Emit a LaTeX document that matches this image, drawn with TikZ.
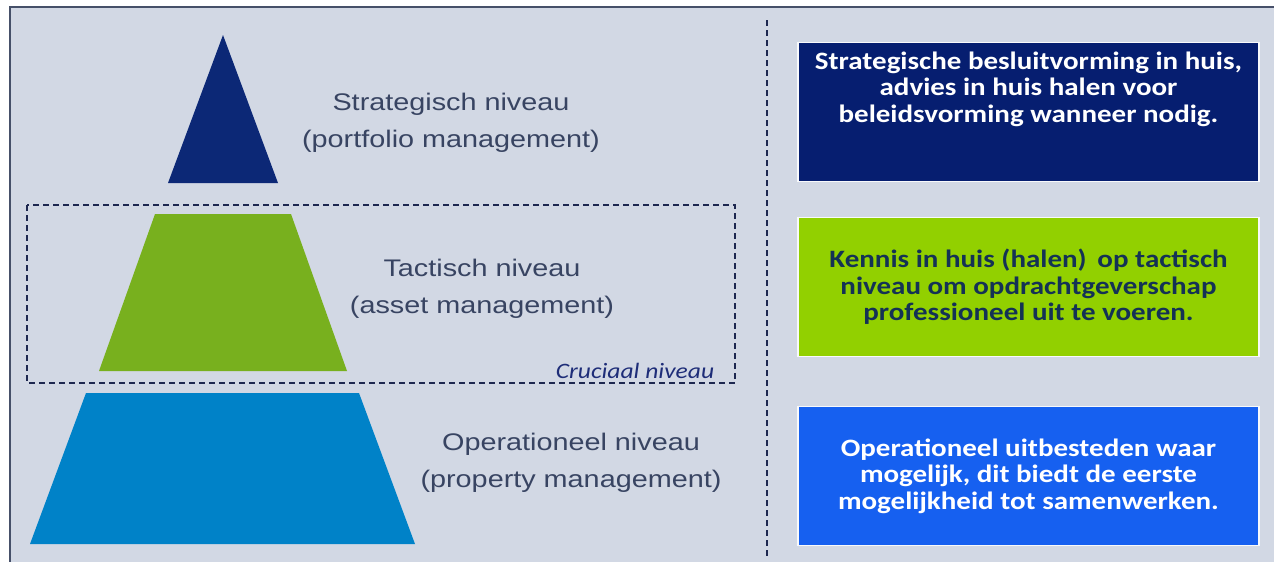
\documentclass[tikz,border=0pt]{standalone}
\usepackage{fontspec}
\setmainfont{Liberation Sans}
\newfontfamily\levelfont[FakeStretch=1.2]{Liberation Sans}
\newfontfamily\notefont[FakeStretch=1.16]{Carlito}

\definecolor{panel}{RGB}{210,216,228}
\definecolor{framecol}{RGB}{70,80,105}
\definecolor{dashcol}{RGB}{30,40,80}
\definecolor{stratcol}{RGB}{12,40,118}
\definecolor{tactcol}{RGB}{120,176,30}
\definecolor{opercol}{RGB}{0,130,200}
\definecolor{labelcol}{RGB}{56,68,98}
\definecolor{crucol}{RGB}{30,45,120}
\definecolor{box1col}{RGB}{6,30,112}
\definecolor{box2col}{RGB}{146,208,0}
\definecolor{box2txt}{RGB}{20,50,85}
\definecolor{box3col}{RGB}{22,96,240}

\begin{document}
\begin{tikzpicture}[x=1pt,y=-1pt,
  levellabel/.style={align=center, inner sep=0pt, text=labelcol,
    font={\levelfont\fontsize{24}{36.5}\selectfont}},
  notebox/.style={draw=white!85!panel, line width=1.2pt, minimum width=461pt,
    minimum height=139pt, inner sep=0pt},
  notetext/.style={align=center, inner sep=0pt,
    font={\notefont\bfseries\fontsize{25}{26.5}\selectfont}},
  dashline/.style={draw=dashcol, line width=1.3pt, dash pattern=on 6pt off 4pt}]
\useasboundingbox (0,0) rectangle (1274,562);

% background panel with its frame on the left and top
\fill[white] (0,0) rectangle (1274,562);
\fill[panel] (10,7) rectangle (1274,562);
\draw[framecol, line width=2pt] (10,562) -- (10,7) -- (1274,7);

% pyramid levels
\fill[stratcol] (223,35) -- (278,183) -- (168,183) -- cycle;
\fill[tactcol] (155,214) -- (291,214) -- (347,371) -- (99,371) -- cycle;
\fill[opercol] (86,393) -- (359,393) -- (415,544) -- (30,544) -- cycle;

% level labels
\node[levellabel] (lstrat) at (451,123) {Strategisch niveau\\(portfolio management)};
\node[levellabel] (ltact) at (482,289) {Tactisch niveau\\(asset management)};
\node[levellabel] (loper) at (571,463) {Operationeel niveau\\(property management)};

% crucial level frame
\draw[dashline] (27,205) rectangle (735,383);
\node[inner sep=0pt, text=crucol, font={\notefont\itshape\fontsize{22}{24}\selectfont}]
  (cruc) at (635,371) {Cruciaal niveau};

% separator
\draw[dashline] (767,20) -- (767,556);

% policy boxes
\node[notebox, fill=box1col] (b1) at (1028.5,112) {};
\node[notebox, fill=box2col] (b2) at (1028.5,287) {};
\node[notebox, fill=box3col] (b3) at (1028.5,476) {};

\node[notetext, text=white] (t1) at ([yshift=23pt]b1.center)
  {Strategische besluitvorming in huis,\\advies in huis halen voor\\beleidsvorming wanneer nodig.};
\node[notetext, text=box2txt] (t2) at (b2.center)
  {Kennis in huis (halen)\, op tactisch\\niveau om opdrachtgeverschap\\professioneel uit te voeren.};
\node[notetext, text=white] (t3) at (b3.center)
  {Operationeel uitbesteden waar\\mogelijk, dit biedt de eerste\\mogelijkheid tot samenwerken.};
\end{tikzpicture}
\end{document}
